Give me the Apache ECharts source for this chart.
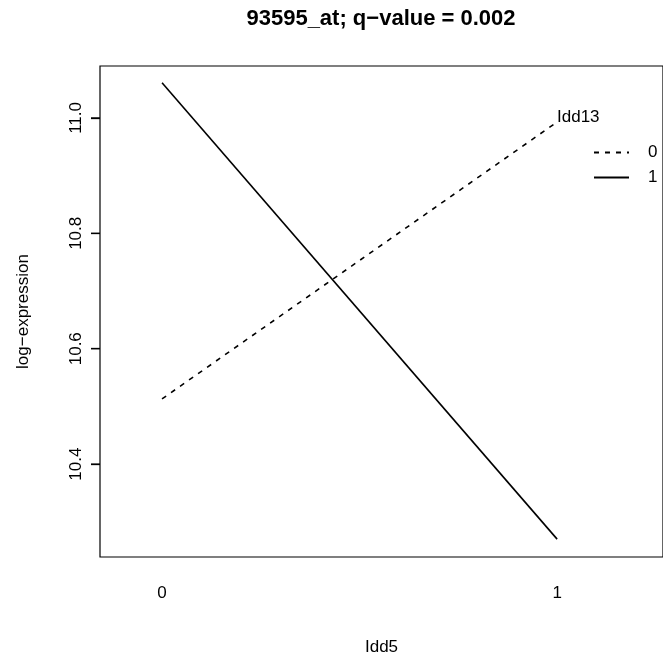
<!DOCTYPE html>
<html>
<head>
<meta charset="utf-8">
<script src="https://cdn.jsdelivr.net/npm/echarts@6/dist/echarts.min.js"></script>
<style>
  html, body { margin: 0; padding: 0; background: #fff; }
  #chart { width: 663px; height: 652px; }
</style>
</head>
<body>
<div id="chart"></div>
<script>
// interaction plot data
var xLevels = [0, 1];
var idd13_0 = [10.513, 10.993];
var idd13_1 = [11.061, 10.270];
var yTicks = [10.4, 10.6, 10.8, 11.0];
var xTicks = [0, 1];

var font = 'Liberation Sans, Arial, Helvetica, sans-serif';
var xMin = -0.157, xMax = 1.268;
var yMin = 10.239, yMax = 11.09;

function pairs(ys) {
  return xLevels.map(function (x, i) { return [x, ys[i]]; });
}

var myChart = echarts.init(document.getElementById('chart'), null, { renderer: 'canvas' });
myChart.setOption({
  animation: false,
  backgroundColor: '#fff',
  title: [{
    text: '93595_at; q\u2212value = 0.002',
    left: 376, top: 3, textAlign: 'center',
    textStyle: { fontFamily: font, fontSize: 22, fontWeight: 'bold', color: '#000' }
  }, {
    text: 'Idd13',
    left: 552, top: 104,
    textStyle: { fontFamily: font, fontSize: 17, fontWeight: 'normal', color: '#000' }
  }],
  legend: {
    orient: 'vertical',
    left: 593, top: 144, padding: 0,
    itemWidth: 35, itemHeight: 12, itemGap: 8,
    data: ['0', '1'],
    itemStyle: { color: 'transparent', borderColor: 'transparent', borderWidth: 0 },
    textStyle: { fontFamily: font, fontSize: 17, color: '#000', padding: [0, 0, 0, 14] }
  },
  grid: [{
    left: 100, right: 0, top: 66, bottom: 95, outerBoundsMode: 'none',
    show: true, borderColor: '#000', borderWidth: 1.2, backgroundColor: 'transparent'
  }, {
    // narrow strip left of the box that holds the y tick marks
    left: 91, width: 9, top: 66, bottom: 95, outerBoundsMode: 'none', show: false
  }],
  xAxis: [{
    type: 'value', min: xMin, max: xMax,
    name: 'Idd5', nameLocation: 'middle', nameGap: 82,
    nameTextStyle: { fontFamily: font, fontSize: 17, color: '#000' },
    axisLine: { show: false, onZero: false },
    axisTick: { show: false },
    splitLine: { show: false },
    axisLabel: { customValues: xTicks, margin: 28, fontFamily: font, fontSize: 17, color: '#000' }
  }, {
    gridIndex: 1, type: 'value', min: 0, max: 1, show: false
  }],
  yAxis: [{
    type: 'value', min: yMin, max: yMax,
    name: 'log\u2212expression', nameLocation: 'middle', nameGap: 68, nameRotate: 90,
    nameTextStyle: { fontFamily: font, fontSize: 17, color: '#000' },
    axisLine: { show: false, onZero: false },
    axisTick: { show: false },
    splitLine: { show: false },
    axisLabel: {
      customValues: yTicks, rotate: 90, margin: 15,
      fontFamily: font, fontSize: 17, color: '#000',
      formatter: function (v) { return v.toFixed(1); }
    }
  }, {
    gridIndex: 1, type: 'value', min: yMin, max: yMax,
    axisLine: { show: false, onZero: false },
    axisTick: { show: true, inside: true, customValues: yTicks, length: 9, lineStyle: { color: '#000', width: 1.3 } },
    axisLabel: { show: false },
    splitLine: { show: false }
  }],
  series: [{
    name: '0', type: 'line', data: pairs(idd13_0), symbol: 'none',
    lineStyle: { color: '#000', width: 1.6, type: [5, 6] },
    itemStyle: { color: '#000' }
  }, {
    name: '1', type: 'line', data: pairs(idd13_1), symbol: 'none',
    lineStyle: { color: '#000', width: 1.6, type: 'solid' },
    itemStyle: { color: '#000' }
  }, {
    // y tick marks drawn inside the narrow strip
    name: 'yticks', type: 'scatter', silent: true, z: 10,
    xAxisIndex: 1, yAxisIndex: 1,
    data: yTicks.map(function (v) { return [0.5, v]; }),
    symbol: 'rect', symbolSize: [9, 1.3],
    itemStyle: { color: '#000', opacity: 1 }
  }]
});
</script>
</body>
</html>
